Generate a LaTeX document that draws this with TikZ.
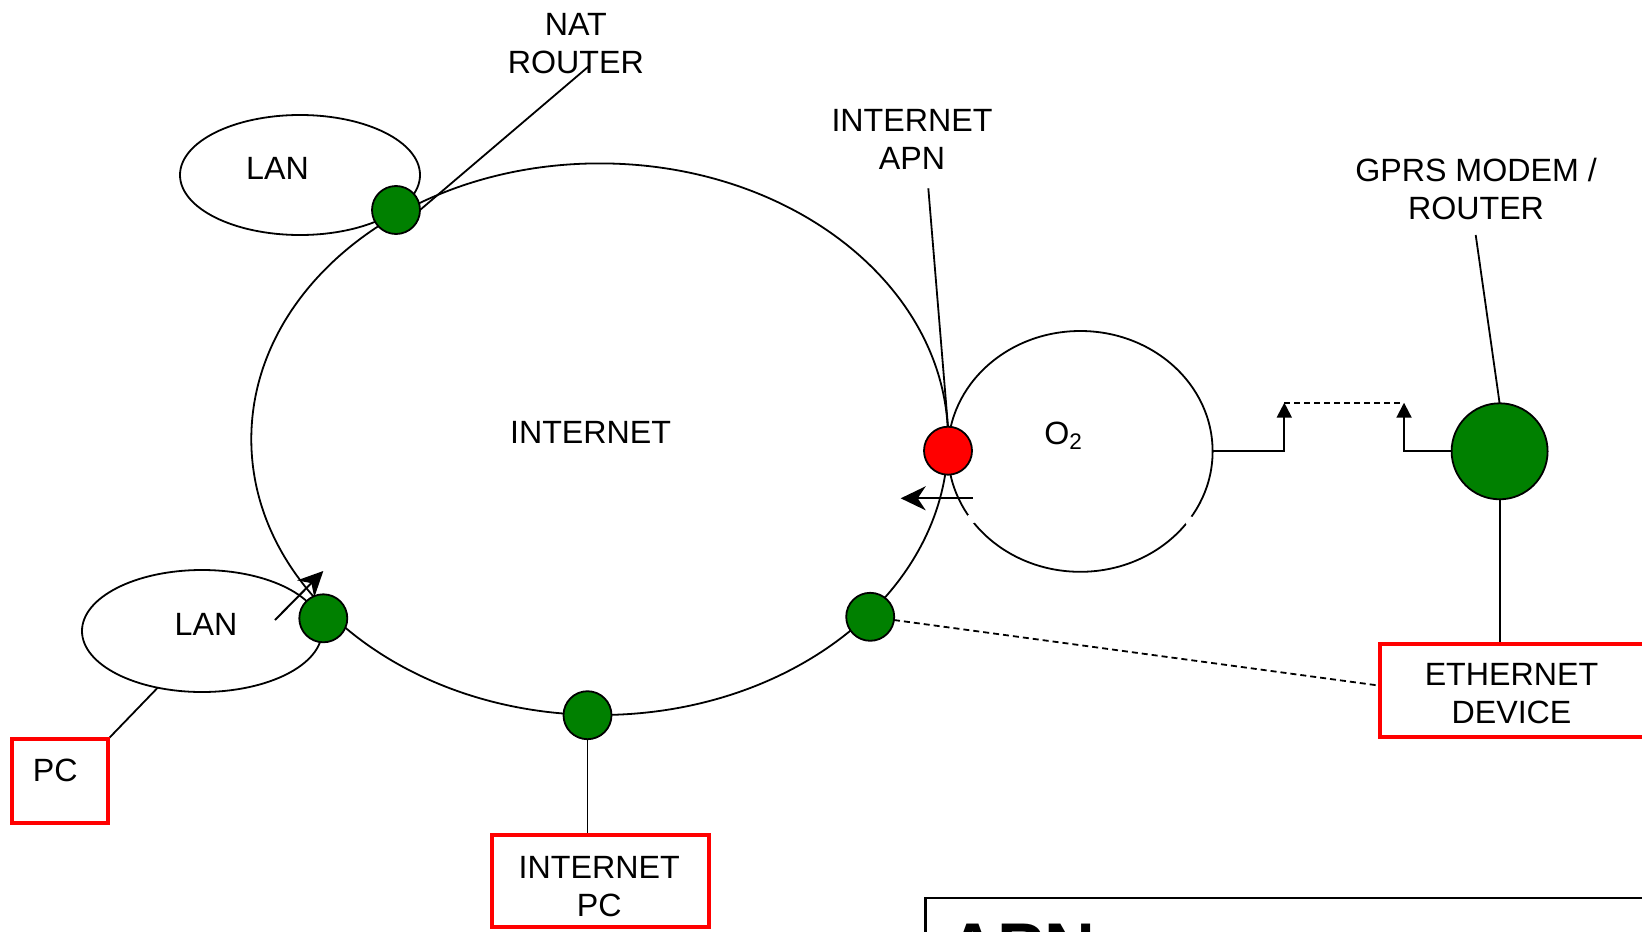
\documentclass[tikz,border=0pt]{standalone}
\usepackage{fontspec}
\setmainfont{Liberation Sans}
\usetikzlibrary{arrows.meta,shapes.geometric}
\definecolor{hubgreen}{RGB}{0,128,0}
\definecolor{hubred}{RGB}{255,0,0}
\pgfdeclarelayer{back}
\pgfsetlayers{back,main}
\begin{document}
\begin{tikzpicture}[x=0.5pt,y=-0.5pt,
  txt/.style={font=\fontsize{16.1pt}{19pt}\selectfont, align=center, inner sep=0pt},
  netring/.style={ellipse, draw=black, line width=0.9pt, inner sep=0pt, outer sep=0pt},
  hub/.style={circle, draw=black, line width=0.9pt, fill=hubgreen, minimum size=24pt, inner sep=0pt, outer sep=0pt},
  devbox/.style={rectangle, draw=hubred, line width=2pt, inner sep=0pt, outer sep=0pt},
  wire/.style={line width=0.9pt},
  dashwire/.style={line width=0.9pt, dash pattern=on 3pt off 2pt},
  push/.style={line width=1pt, -{Stealth[length=12.5pt,width=12pt,inset=4pt]}},
  uplink/.style={line width=1pt, -{Triangle[length=7.5pt,width=7.5pt]}},
]
\useasboundingbox (0,0) rectangle (1642,931);

% networks
\node[netring, minimum width=348.35pt, minimum height=275.8pt] (internet) at (599.65,439.2) {};
\node[netring, minimum width=120pt, minimum height=60pt] (lanTop) at (300,175) {};
\node[netring, minimum width=120pt, minimum height=61pt] (lanLow) at (202,631) {};
\node[netring, minimum width=132.3pt, minimum height=120.4pt] (otwo) at (1080.3,451.4) {};
\fill[white] (971.2,519) circle [radius=2.5pt];
\fill[white] (1189.8,521) circle [radius=2.5pt];

% access points
\node[hub] (nat) at (396,210) {};
\node[hub] (lanHub) at (323.3,618.3) {};
\node[hub] (pcHub) at (587.5,715.2) {};
\node[hub] (devHub) at (870.2,616.8) {};
\node[hub, fill=hubred] (apnHub) at (948,450.7) {};
\node[hub, minimum size=48pt] (gprs) at (1499.6,451.3) {};

% labels
\node[txt] (natLbl) at (575.8,43.5) {NAT\\ROUTER};
\node[txt] (apnLbl) at (912,139.6) {INTERNET\\APN};
\node[txt] (gprsLbl) at (1476,188.6) {GPRS MODEM /\\ROUTER};
\node[txt] (inetLbl) at (590.6,432.5) {INTERNET};
\node[txt] (lanTopLbl) at (277.5,168.6) {LAN};
\node[txt] (lanLowLbl) at (206,624) {LAN};
\node[txt, anchor=base west] (o2Lbl) at (1044,444.4) {O\textsubscript{2}};

% end devices
\node[devbox, minimum width=48pt, minimum height=41.8pt] (pc) at (60,781) {};
\node[txt] (pcLbl) at (55.2,770.8) {PC};
\node[devbox, minimum width=108.35pt, minimum height=45.9pt] (ipc) at (600.3,881.2) {};
\node[txt] (ipcLbl) at (599.2,886.5) {INTERNET\\PC};
\node[devbox, minimum width=131.85pt, minimum height=46.65pt] (eth) at (1512.2,690.35) {};
\node[txt] (ethLbl) at (1511.5,693.6) {ETHERNET\\DEVICE};

% title panel
\begin{scope}
  \clip (0,0) rectangle (1642,931);
  \node[draw=black, line width=1.35pt, anchor=north west, minimum width=400pt, minimum height=60pt, inner sep=0pt] (note) at (924,896.7) {};
  \node[font=\fontsize{35.2pt}{40pt}\selectfont\bfseries, anchor=base west, inner sep=0pt] (noteTxt) at (946.7,972) {APN};
\end{scope}

% connectors
\begin{pgfonlayer}{back}
  \coordinate (natTail) at (588.3,66.7);
  \coordinate (apnTail) at (928.3,188.3);
  \coordinate (gprsTail) at (1475.7,235);
  \draw[wire] (natTail) -- (nat.east);
  \draw[wire] (apnTail) -- (apnHub.north);
  \draw[wire] (gprsTail) -- (gprs.north);
  \draw[wire] (pc.north east) -- (lanLow.232);
  \draw[wire] (pcHub.south) -- (pcHub.south |- ipc.north);
  \draw[wire] (gprs.south) -- (gprs.south |- eth.north);
  \draw[dashwire] (devHub) -- (eth.178);
  \coordinate (upA) at (1284.3,402.7);
  \coordinate (upB) at (1404,402.7);
  \draw[uplink] (otwo.east) -| (upA);
  \draw[uplink] (gprs.west) -| (upB);
  \draw[dashwire] (upA) -- (upB);
\end{pgfonlayer}

% traffic direction
\coordinate (pushLTail) at (275,620);
\coordinate (pushLHead) at (323.3,571);
\draw[push] (pushLTail) -- (pushLHead);
\coordinate (pushRTail) at (972.7,498.3);
\coordinate (pushRHead) at (900.7,498.3);
\draw[push] (pushRTail) -- (pushRHead);
\end{tikzpicture}
\end{document}
